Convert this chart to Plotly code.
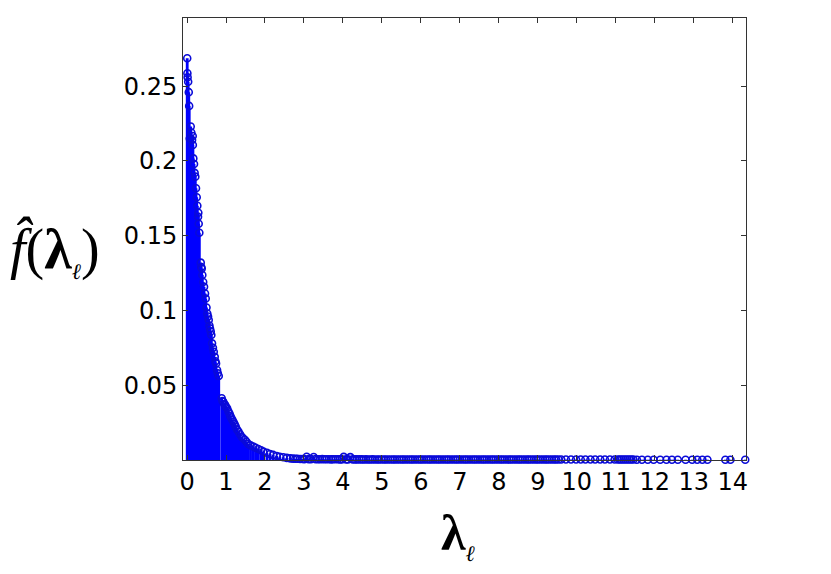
"""
Stem plot of the spectral coefficients f-hat(lambda_l) against the graph
Laplacian eigenvalues lambda_l (MATLAB-style stem chart).
"""

import plotly.graph_objects as go

# eigenvalues / coefficients, in three groups

# steep part, 0 .. 0.82
lam_low = [0.005, 0.010, 0.015, 0.030, 0.045, 0.055, 0.070, 0.095, 0.110, 0.130,
           0.146, 0.150, 0.162, 0.180, 0.195, 0.213, 0.231, 0.249, 0.265, 0.283,
           0.290, 0.300, 0.316, 0.352, 0.365, 0.378, 0.393, 0.415, 0.437, 0.462,
           0.480, 0.500, 0.520, 0.540, 0.557, 0.575, 0.590, 0.608, 0.624, 0.642,
           0.665, 0.686, 0.711, 0.728, 0.745, 0.771, 0.790, 0.814]
f_low = [0.2687, 0.2587, 0.2560, 0.2530, 0.2460, 0.2368, 0.2150, 0.2230, 0.2190, 0.2140,
         0.2167, 0.2107, 0.2017, 0.1980, 0.1920, 0.1895, 0.1817, 0.1757, 0.1700, 0.1627,
         0.1654, 0.1580, 0.1520, 0.1320, 0.1290, 0.1280, 0.1237, 0.1190, 0.1158, 0.1114,
         0.1080, 0.1020, 0.0980, 0.0960, 0.0936, 0.0900, 0.0880, 0.0860, 0.0836, 0.0780,
         0.0750, 0.0724, 0.0690, 0.0660, 0.0646, 0.0602, 0.0580, 0.0562]

# second bump, 0.89 .. 2.65
lam_mid = [0.890, 0.910, 0.930, 0.955, 0.980, 1.000, 1.030, 1.060, 1.090, 1.110,
           1.130, 1.160, 1.190, 1.220, 1.250, 1.280, 1.320, 1.360, 1.400, 1.440,
           1.490, 1.530, 1.570, 1.630, 1.700, 1.760, 1.830, 1.900, 1.960, 2.050,
           2.130, 2.210, 2.300, 2.380, 2.470, 2.560, 2.650]
f_mid = [0.0413, 0.0395, 0.0390, 0.0375, 0.0368, 0.0355, 0.0346, 0.0325, 0.0311, 0.0295,
         0.0284, 0.0270, 0.0256, 0.0240, 0.0223, 0.0205, 0.0190, 0.0172, 0.0156, 0.0145,
         0.0134, 0.0120, 0.0107, 0.0098, 0.0090, 0.0082, 0.0074, 0.0065, 0.0056, 0.0048,
         0.0040, 0.0034, 0.0027, 0.0022, 0.0018, 0.0014, 0.0011]

# long flat tail, ~0
lam_tail = [2.72, 2.78, 2.83, 2.90, 2.96, 3.01, 3.07, 3.12, 3.18, 3.25,
            3.30, 3.36, 3.41, 3.47, 3.53, 3.58, 3.64, 3.70, 3.75, 3.81,
            3.87, 3.92, 3.97, 4.02, 4.08, 4.13, 4.19, 4.25, 4.31, 4.36,
            4.42, 4.48, 4.53, 4.59, 4.65, 4.70, 4.76, 4.82, 4.88, 4.93,
            4.99, 5.05, 5.10, 5.16, 5.22, 5.28, 5.33, 5.39, 5.45, 5.51,
            5.56, 5.62, 5.68, 5.74, 5.79, 5.85, 5.91, 5.97, 6.02, 6.08,
            6.14, 6.20, 6.25, 6.31, 6.37, 6.43, 6.48, 6.54, 6.60, 6.66,
            6.71, 6.77, 6.83, 6.89, 6.94, 7.00, 7.06, 7.12, 7.17, 7.23,
            7.29, 7.35, 7.40, 7.46, 7.52, 7.58, 7.63, 7.69, 7.75, 7.81,
            7.86, 7.92, 7.98, 8.04, 8.09, 8.15, 8.21, 8.27, 8.32, 8.38,
            8.44, 8.50, 8.55, 8.61, 8.67, 8.73, 8.78, 8.84, 8.90, 8.96,
            9.01, 9.07, 9.13, 9.19, 9.24, 9.30, 9.36, 9.42, 9.47, 9.53,
            9.60, 9.72, 9.85, 9.98, 10.10, 10.22, 10.35, 10.47, 10.60, 10.72,
            10.85, 10.97, 11.05, 11.10, 11.15, 11.20, 11.25, 11.30, 11.35, 11.40,
            11.45, 11.54, 11.67, 11.82, 11.97, 12.14, 12.30, 12.44, 12.59, 12.79,
            12.96, 13.09, 13.22, 13.35, 13.81, 13.94, 14.32]
f_tail = [0.0009, 0.0008, 0.0008, 0.0007, 0.0007, 0.0006, 0.0022, 0.0006, 0.0006, 0.0020,
          0.0006, 0.0005, 0.0005, 0.0006, 0.0005, 0.0005, 0.0005, 0.0004, 0.0005, 0.0005,
          0.0005, 0.0004, 0.0004, 0.0021, 0.0004, 0.0004, 0.0019, 0.0004, 0.0004, 0.0004,
          0.0004, 0.0004, 0.0003, 0.0004, 0.0003, 0.0003, 0.0004, 0.0003, 0.0003, 0.0003,
          0.0003, 0.0003, 0.0003, 0.0003, 0.0003, 0.0003, 0.0003, 0.0003, 0.0003, 0.0003,
          0.0003, 0.0003, 0.0003, 0.0003, 0.0003, 0.0003, 0.0003, 0.0003, 0.0003, 0.0003,
          0.0003, 0.0003, 0.0003, 0.0003, 0.0003, 0.0003, 0.0003, 0.0003, 0.0003, 0.0003,
          0.0003, 0.0003, 0.0003, 0.0003, 0.0003, 0.0003, 0.0003, 0.0003, 0.0003, 0.0003,
          0.0003, 0.0003, 0.0003, 0.0003, 0.0003, 0.0003, 0.0003, 0.0003, 0.0003, 0.0003,
          0.0003, 0.0003, 0.0003, 0.0003, 0.0003, 0.0003, 0.0003, 0.0003, 0.0003, 0.0003,
          0.0003, 0.0003, 0.0003, 0.0003, 0.0003, 0.0003, 0.0003, 0.0003, 0.0003, 0.0003,
          0.0003, 0.0003, 0.0003, 0.0003, 0.0003, 0.0003, 0.0003, 0.0003, 0.0003, 0.0003,
          0.0003, 0.0003, 0.0003, 0.0003, 0.0003, 0.0003, 0.0003, 0.0003, 0.0003, 0.0003,
          0.0003, 0.0003, 0.0003, 0.0003, 0.0003, 0.0003, 0.0003, 0.0003, 0.0003, 0.0003,
          0.0003, 0.0002, 0.0002, 0.0002, 0.0002, 0.0002, 0.0002, 0.0002, 0.0002, 0.0002,
          0.0002, 0.0002, 0.0002, 0.0002, 0.0002, 0.0002, 0.0002]

x_ticks = list(range(0, 15))
y_ticks = [0.05, 0.1, 0.15, 0.2, 0.25]
y_tick_text = ['0.05', '0.1', '0.15', '0.2', '0.25']

lam = lam_low + lam_mid + lam_tail
f = f_low + f_mid + f_tail

# stems: one line trace, segments split with None
stem_x, stem_y = [], []
for xv, yv in zip(lam, f):
    stem_x += [xv, xv, None]
    stem_y += [0, yv, None]

fig = go.Figure()

fig.add_trace(go.Scatter(
    x=stem_x, y=stem_y,
    mode='lines',
    line=dict(color='#0000ff', width=2.8),
    hoverinfo='skip',
    showlegend=False,
    cliponaxis=False
))

fig.add_trace(go.Scatter(
    x=lam, y=f,
    mode='markers',
    marker=dict(symbol='circle-open', size=7, color='#0a0ad8',
                line=dict(width=1.6, color='#0a0ad8')),
    showlegend=False,
    cliponaxis=False
))

tick_font = dict(family='DejaVu Sans', size=24, color='black')

# the html page has an 8px body margin, so the figure is offset by 8px
fig.update_layout(
    width=823, height=566,
    margin=dict(l=175, r=85, t=10, b=114),
    paper_bgcolor='white',
    plot_bgcolor='white',
    xaxis=dict(
        range=[-0.103, 14.34],
        tickvals=x_ticks,
        ticks='inside', ticklen=5, tickcolor='#333333',
        showline=True, linecolor='#333333', linewidth=1, mirror='ticks',
        showgrid=False, zeroline=False,
        tickfont=tick_font
    ),
    yaxis=dict(
        range=[0, 0.2956],
        tickvals=y_ticks, ticktext=y_tick_text,
        ticks='inside', ticklen=5, tickcolor='#333333',
        showline=True, linecolor='#333333', linewidth=1, mirror='ticks',
        showgrid=False, zeroline=False,
        tickfont=tick_font
    ),
    annotations=[
        dict(text='<i>f\u0302</i>(<b>\u03bb</b><sub><span style="font-size:22px"><i>\u2113</i></span></sub>)',
             xref='paper', yref='paper', x=-0.31, y=0.475,
             xanchor='left', yanchor='middle', showarrow=False,
             font=dict(family='Liberation Serif', size=56, color='black')),
        dict(text='<b>\u03bb</b><sub><span style="font-size:22px"><i>\u2113</i></span></sub>',
             xref='paper', yref='paper', x=0.49, y=-0.17,
             xanchor='center', yanchor='middle', showarrow=False,
             font=dict(family='Liberation Serif', size=50, color='black')),
    ]
)

fig.write_html("out.html")
